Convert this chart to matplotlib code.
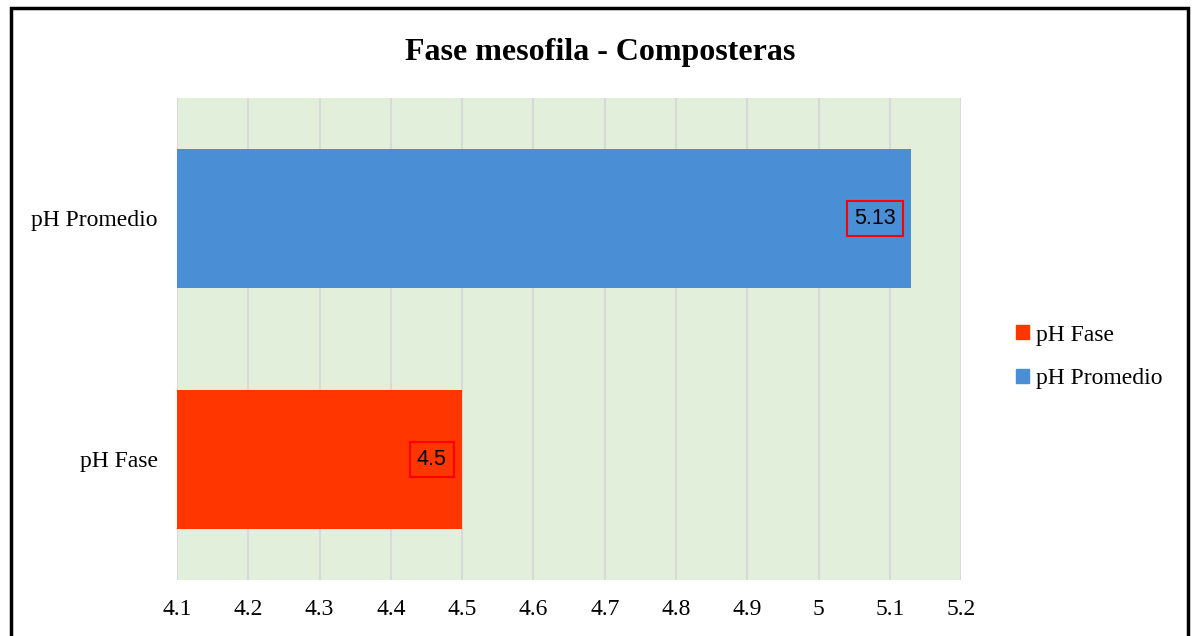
import numpy as np
import matplotlib.pyplot as plt
from matplotlib.patches import Rectangle, Patch

# Datos del gráfico
categorias = ['pH Fase', 'pH Promedio']
valores = [4.5, 5.13]
colores = ['#FF3600', '#4A8ED6']
etiquetas = ['4.5', '5.13']
ticks_x = [4.1, 4.2, 4.3, 4.4, 4.5, 4.6, 4.7, 4.8, 4.9, 5.0, 5.1, 5.2]
tick_labels = ['4.1', '4.2', '4.3', '4.4', '4.5', '4.6', '4.7', '4.8', '4.9', '5', '5.1', '5.2']

serif = ['Liberation Serif', 'DejaVu Serif']

fig = plt.figure(figsize=(11.93, 6.36), dpi=100)
ax = fig.add_axes([0.1484, 0.0881, 0.6572, 0.7579])

base = ticks_x[0]
y = np.arange(len(categorias))
ax.barh(y, [v - base for v in valores], left=base, height=0.575,
        color=colores, zorder=3)

# Etiquetas de datos con recuadro rojo
for yi, v, txt in zip(y, valores, etiquetas):
    ax.annotate(txt, xy=(v, yi), xytext=(-11, 0), textcoords='offset points',
                ha='right', va='center', fontsize=15.5, family='Liberation Sans',
                color='black', zorder=4,
                bbox=dict(boxstyle='square,pad=0.33', fc='none', ec='#FF0000', lw=1.5))

ax.set_facecolor('#E2EFDA')
ax.set_xlim(4.1, 5.2)
ax.set_ylim(-0.5, 1.5)
ax.set_xticks(ticks_x)
ax.set_xticklabels(tick_labels, family=serif, fontsize=17)
ax.set_yticks(y)
ax.set_yticklabels(categorias, family=serif, fontsize=17)
ax.tick_params(length=0)
ax.tick_params(axis='x', pad=14)
ax.tick_params(axis='y', pad=14)
ax.grid(axis='x', color='#D9D9D9', linewidth=1.5, zorder=0)
for s in ax.spines.values():
    s.set_visible(False)

fig.text(0.503, 0.918, 'Fase mesofila - Composteras', ha='center', va='center',
         fontsize=23, fontweight='bold', family=serif)

# Leyenda a la derecha
handles = [Patch(color=c, label=l) for c, l in zip(colores, categorias)]
fig.legend(handles=handles, loc='center left', bbox_to_anchor=(0.834, 0.439),
           frameon=False, prop={'family': serif, 'size': 17},
           handlelength=0.55, handleheight=0.55, handletextpad=0.3, labelspacing=0.95)

# Marco exterior
fig.patches.append(Rectangle((0.0092, -0.05), 0.987, 1.037, transform=fig.transFigure,
                             fill=False, ec='black', lw=2.5, clip_on=False))

fig.savefig('out.png', dpi=100)
